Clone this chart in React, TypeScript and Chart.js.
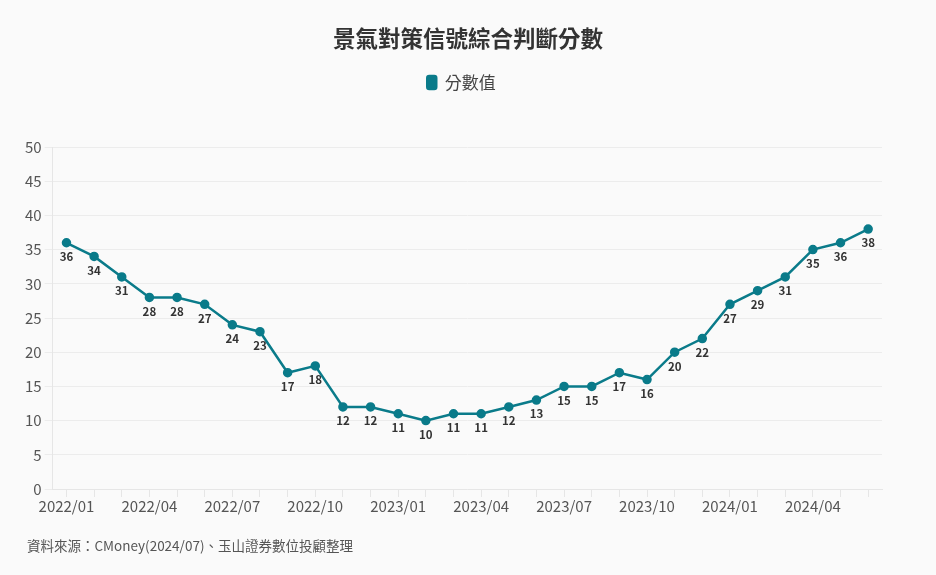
import { useEffect, useRef } from 'react';
import { Chart, registerables } from 'chart.js';

Chart.register(...registerables);

const months = [
  '2022/01', '2022/02', '2022/03', '2022/04', '2022/05', '2022/06',
  '2022/07', '2022/08', '2022/09', '2022/10', '2022/11', '2022/12',
  '2023/01', '2023/02', '2023/03', '2023/04', '2023/05', '2023/06',
  '2023/07', '2023/08', '2023/09', '2023/10', '2023/11', '2023/12',
  '2024/01', '2024/02', '2024/03', '2024/04', '2024/05', '2024/06',
];
const scores = [
  36, 34, 31, 28, 28, 27, 24, 23, 17, 18, 12, 12,
  11, 10, 11, 11, 12, 13, 15, 15, 17, 16, 20, 22,
  27, 29, 31, 35, 36, 38,
];

const FONT = '"Noto Sans CJK TC", "Noto Sans", sans-serif';
const TEAL = '#0a7b8a';

// numbers under each point
const pointLabels = {
  id: 'pointLabels',
  afterDatasetsDraw(chart: Chart) {
    const { ctx } = chart;
    const meta = chart.getDatasetMeta(0);
    ctx.save();
    ctx.font = `bold 11.5px ${FONT}`;
    ctx.fillStyle = '#333';
    ctx.textAlign = 'center';
    ctx.textBaseline = 'middle';
    meta.data.forEach((pt, i) => {
      ctx.fillText(String(scores[i]), pt.x, pt.y + 14);
    });
    ctx.restore();
  },
};

// extra gap between legend and plot, and centre title/legend on the whole canvas
const headerLayout = {
  id: 'headerLayout',
  beforeInit(chart: any) {
    const fit = chart.legend.fit;
    chart.legend.fit = function () {
      fit.bind(chart.legend)();
      this.height += 46;
    };
  },
  afterLayout(chart: any) {
    const { titleBlock, legend } = chart;
    if (titleBlock) {
      titleBlock.left = 0;
      titleBlock.right = chart.width;
      titleBlock.width = chart.width;
    }
    if (legend) {
      // legend sits a little left of centre in the original
      legend.left = -13;
      legend.right = chart.width;
      legend.width = chart.width + 13;
    }
  },
};

export default function App() {
  const canvasRef = useRef<HTMLCanvasElement>(null);
  const chartRef = useRef<Chart | null>(null);

  useEffect(() => {
    document.body.style.margin = '0';
    chartRef.current?.destroy();
    if (!canvasRef.current) return undefined;

    chartRef.current = new Chart(canvasRef.current, {
      type: 'line',
      data: {
        labels: months,
        datasets: [{
          label: '分數值',
          data: scores,
          borderColor: TEAL,
          backgroundColor: TEAL,
          borderWidth: 2.5,
          pointRadius: 3.5,
          pointHoverRadius: 3.5,
          tension: 0,
        }],
      },
      options: {
        animation: false,
        responsive: false,
        layout: { padding: { left: 22, right: 54, top: 0, bottom: 60 } },
        plugins: {
          title: {
            display: true,
            text: '景氣對策信號綜合判斷分數',
            color: '#333',
            font: { family: FONT, size: 22.5, weight: 'bold' },
            padding: { top: 25, bottom: 12 },
          },
          legend: {
            labels: {
              color: '#444',
              font: { family: FONT, size: 17 },
              boxWidth: 9,
              boxHeight: 13,
              useBorderRadius: true,
              borderRadius: 2,
            },
          },
          tooltip: { enabled: false },
        },
        scales: {
          x: {
            offset: true,
            grid: { offset: false, drawOnChartArea: false, drawTicks: true, tickLength: 8, color: '#e6e6e6' },
            border: { color: '#e6e6e6' },
            ticks: {
              autoSkip: false,
              maxRotation: 0,
              color: '#555',
              font: { family: FONT, size: 15 },
              padding: 0,
              callback: (_v, i) => (i % 3 === 0 ? months[i] : ''),
            },
          },
          y: {
            min: 0,
            max: 50,
            grid: { color: '#ececec', tickLength: 8 },
            border: { color: '#e6e6e6' },
            ticks: {
              stepSize: 5,
              color: '#555',
              font: { family: FONT, size: 15 },
              padding: 3,
            },
          },
        },
      },
      plugins: [pointLabels, headerLayout],
    });

    return () => {
      chartRef.current?.destroy();
      chartRef.current = null;
    };
  }, []);

  return (
    <div style={{ position: 'relative', width: 936, height: 575, background: '#fafafa' }}>
      <canvas ref={canvasRef} width={936} height={575} />
      <div
        style={{
          position: 'absolute',
          left: 27,
          top: 535,
          fontFamily: FONT,
          fontSize: 13.5,
          color: '#555',
        }}
      >
        資料來源：CMoney(2024/07)、玉山證券數位投顧整理
      </div>
    </div>
  );
}
